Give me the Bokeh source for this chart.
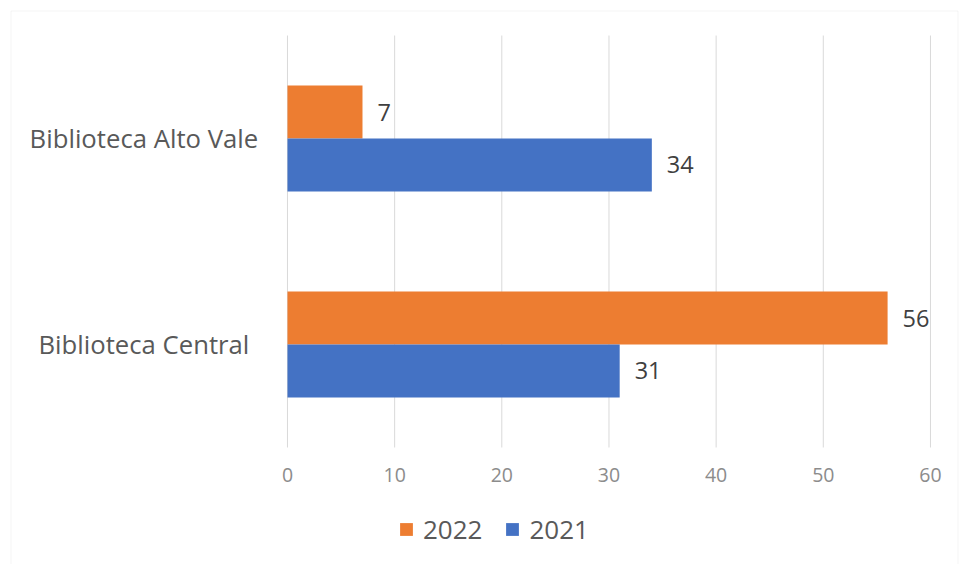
from bokeh.plotting import figure
from bokeh.models import (ColumnDataSource, Range1d, FixedTicker,
                          Legend, LegendItem, BoxAnnotation)
from bokeh.transform import dodge
from bokeh.core.properties import value
from bokeh.embed import file_html
from bokeh.resources import INLINE

categories = ["Biblioteca Central", "Biblioteca Alto Vale"]  # bottom to top
values_2022 = [56, 7]
values_2021 = [31, 34]
x_ticks = [0, 10, 20, 30, 40, 50, 60]

FONT = "Open Sans"
ORANGE = "#ED7D31"
BLUE = "#4472C4"

pos = list(range(len(categories)))
src = ColumnDataSource(dict(pos=pos, cat=categories, v22=values_2022, v21=values_2021,
                            t22=[str(v) for v in values_2022],
                            t21=[str(v) for v in values_2021]))

W, H = 959, 564
# frame covers the whole canvas; ranges chosen so that 0..60 and the two
# category bands sit where the reference places them
p = figure(width=W, height=H, output_backend="svg", toolbar_location=None,
           x_range=Range1d(-26.78, 62.71), y_range=Range1d(-1.068, 1.67),
           min_border_left=0, min_border_right=0, min_border_top=0,
           min_border_bottom=0)
p.outline_line_color = None
p.background_fill_color = "white"
p.border_fill_color = "white"

# vertical gridlines only across the category area
lo, hi = -0.5, len(categories) - 0.5
p.segment(x0=x_ticks, x1=x_ticks, y0=[lo] * len(x_ticks), y1=[hi] * len(x_ticks),
          line_color="#d9d9d9", line_width=1)

off = 0.1285
h = 0.257
r22 = p.hbar(y=dodge("pos", off), right="v22", left=0, height=h,
             source=src, fill_color=ORANGE, line_color=None)
r21 = p.hbar(y=dodge("pos", -off), right="v21", left=0, height=h,
             source=src, fill_color=BLUE, line_color=None)

lbl_kw = dict(text_font=value(FONT), text_font_size="23.5px", text_color="#404040",
              text_align="left", text_baseline="middle", x_offset=15)
p.text(x="v22", y=dodge("pos", off), text="t22", source=src, **lbl_kw)
p.text(x="v21", y=dodge("pos", -off), text="t21", source=src, **lbl_kw)

# category labels, centred in the left margin
p.text(x=value(-13.4), y="pos", text="cat", source=src,
       text_font=value(FONT), text_font_size="25.7px", text_color="#595959",
       text_align="center", text_baseline="middle")

p.yaxis.visible = False
p.grid.visible = False
p.xaxis.fixed_location = lo
p.xaxis.ticker = FixedTicker(ticks=x_ticks)
p.xaxis.axis_line_color = None
p.xaxis.major_tick_line_color = None
p.xaxis.minor_tick_line_color = None
p.xaxis.major_tick_out = 0
p.xaxis.major_tick_in = 0
p.xaxis.major_label_standoff = 21
p.xaxis.major_label_text_font = FONT
p.xaxis.major_label_text_font_size = "19.5px"
p.xaxis.major_label_text_color = "#8c8c8c"

legend = Legend(items=[LegendItem(label="2022", renderers=[r22]),
                       LegendItem(label="2021", renderers=[r21])],
                orientation="horizontal", location=(398, 17),
                label_text_font=FONT, label_text_font_size="26px",
                label_text_color="#595959", glyph_width=16, glyph_height=16,
                spacing=22, padding=0, margin=0, border_line_color=None,
                background_fill_alpha=0, label_standoff=9)
p.add_layout(legend, "center")

border = BoxAnnotation(left=10.5, right=957.5, top=10.5, bottom=800,
                       left_units="canvas", right_units="canvas",
                       top_units="canvas", bottom_units="canvas",
                       fill_alpha=0, line_color="#d9d9d9", line_width=1)
p.add_layout(border)

open("out.html", "w").write(file_html(p, INLINE))
